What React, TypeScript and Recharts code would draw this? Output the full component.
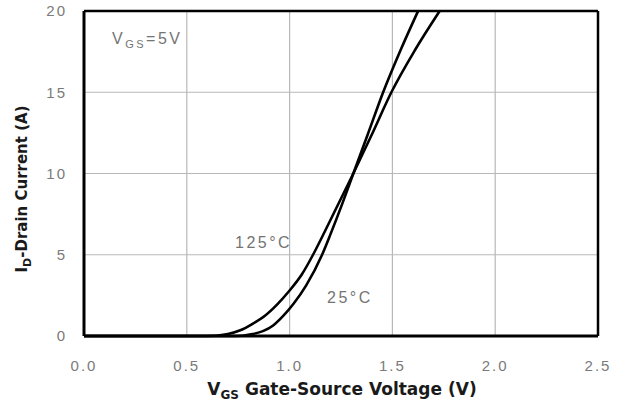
import { LineChart, Line, XAxis, YAxis, CartesianGrid, ReferenceLine } from "recharts";

// Transfer characteristics
const volt125 = [0, 0.55, 0.64, 0.7, 0.76, 0.82, 0.88, 0.94, 1.0, 1.06, 1.114, 1.17, 1.24, 1.31, 1.4, 1.495, 1.61, 1.73];
const amp125 = [0, 0, 0.02, 0.12, 0.35, 0.75, 1.25, 1.95, 2.8, 3.8, 5.0, 6.4, 8.2, 10, 12.4, 15, 17.6, 20];

const volt25 = [0, 0.7, 0.77, 0.82, 0.87, 0.92, 0.97, 1.02, 1.08, 1.158, 1.2, 1.255, 1.31, 1.38, 1.455, 1.54, 1.625];
const amp25 = [0, 0, 0.02, 0.12, 0.3, 0.65, 1.25, 2.0, 3.1, 5.0, 6.3, 8.1, 10, 12.4, 15, 17.6, 20];

const xTicks = [0, 0.5, 1.0, 1.5, 2.0, 2.5];
const yTicks = [0, 5, 10, 15, 20];

const data125 = volt125.map((v, i) => ({ v, id: amp125[i] }));
const data25 = volt25.map((v, i) => ({ v, id: amp25[i] }));

const tickStyle = { fill: "#7a7a7a", fontSize: 15, fontFamily: "Liberation Sans, Arial, sans-serif", letterSpacing: 2 };
const noteStyle = { fill: "#747474", fontSize: 16, fontFamily: "Liberation Sans, Arial, sans-serif", letterSpacing: 2.5 };
const labelFont = "DejaVu Sans, sans-serif";

export default function App() {
  return (
    <div style={{ position: "absolute", left: 0, top: 0, width: 628, height: 405, background: "#fff" }}>
      <LineChart width={628} height={405} margin={{ top: 11, right: 30, left: 0, bottom: 0 }}>
        <CartesianGrid stroke="#b8b8b8" strokeWidth={1.2} />
        <XAxis
          dataKey="v"
          type="number"
          domain={[0, 2.5]}
          ticks={xTicks}
          tickFormatter={(v: number) => v.toFixed(1)}
          tick={tickStyle}
          tickLine={false}
          tickSize={0}
          tickMargin={24}
          height={69}
          axisLine={{ stroke: "#000", strokeWidth: 3 }}
          allowDuplicatedCategory={false}
        />
        <YAxis
          dataKey="id"
          type="number"
          domain={[0, 20]}
          ticks={yTicks}
          tick={tickStyle}
          tickLine={false}
          tickSize={0}
          tickMargin={17}
          width={84}
          axisLine={{ stroke: "#000", strokeWidth: 3 }}
        />
        <ReferenceLine y={20} stroke="#000" strokeWidth={2.5} />
        <ReferenceLine x={2.5} stroke="#000" strokeWidth={2.5} />
        <Line data={data125} dataKey="id" type="monotone" stroke="#000" strokeWidth={2.6} dot={false} isAnimationActive={false} />
        <Line data={data25} dataKey="id" type="monotone" stroke="#000" strokeWidth={2.6} dot={false} isAnimationActive={false} />
      </LineChart>
      <svg width={628} height={405} style={{ position: "absolute", left: 0, top: 0, pointerEvents: "none" }}>
        <text x={112} y={44} {...noteStyle}>
          V<tspan fontSize={11} dy={4}>GS</tspan><tspan dy={-4}>=5V</tspan>
        </text>
        <text x={235} y={248} {...noteStyle}>125°C</text>
        <text x={327} y={303} {...noteStyle}>25°C</text>
        <text x={342} y={395} textAnchor="middle" fill="#1a1a1a" fontSize={17} fontWeight="bold" fontFamily={labelFont}>
          V<tspan fontSize={12} dy={4}>GS</tspan><tspan dy={-4}> Gate-Source Voltage (V)</tspan>
        </text>
        <text
          x={0}
          y={0}
          transform="translate(27,189) rotate(-90)"
          textAnchor="middle"
          fill="#1a1a1a"
          fontSize={15}
          fontWeight="bold"
          fontFamily={labelFont}
        >
          I<tspan fontSize={11} dy={4}>D</tspan><tspan dy={-4}>-Drain Current (A)</tspan>
        </text>
      </svg>
    </div>
  );
}
